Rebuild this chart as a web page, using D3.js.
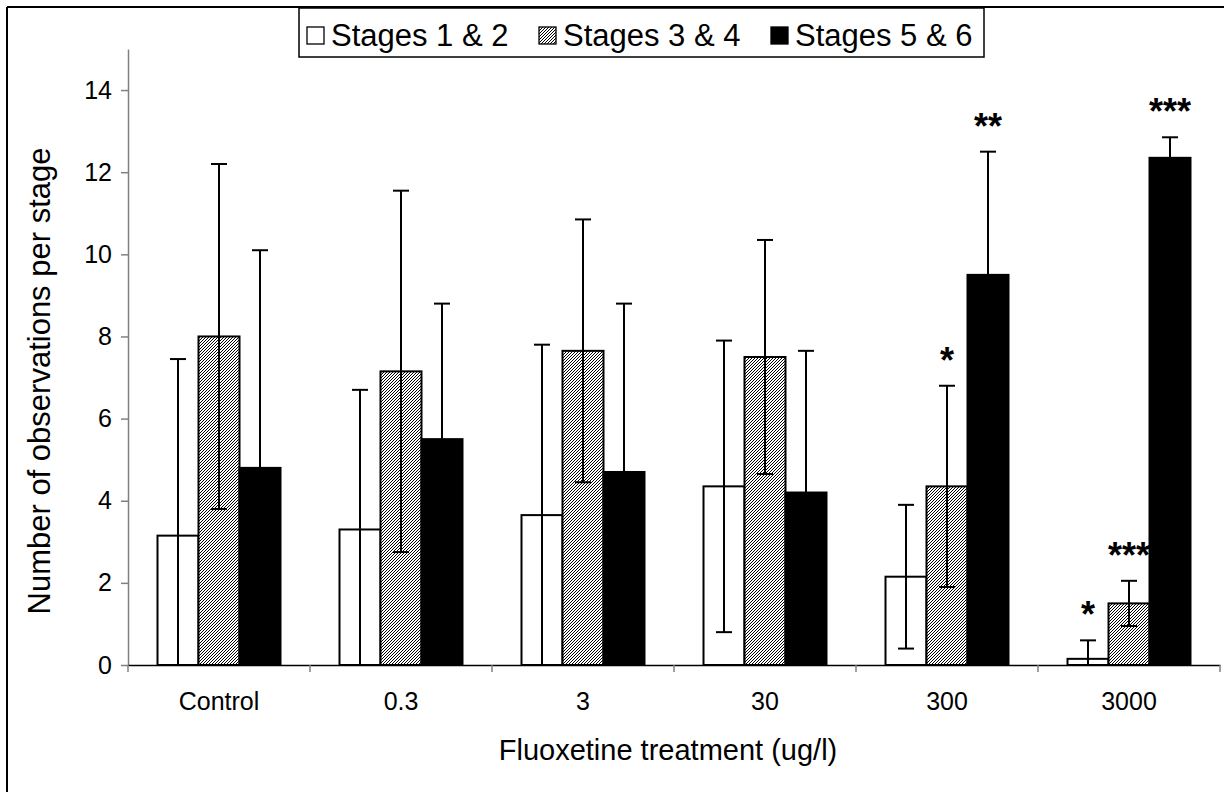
<!DOCTYPE html>
<html><head><meta charset="utf-8">
<script src="https://cdn.jsdelivr.net/npm/d3@7/dist/d3.min.js"></script>
<style>body{margin:0;background:#fff}svg{display:block;font-family:"Liberation Sans",Arial,sans-serif}</style>
</head><body>
<svg id="c" width="1224" height="792"></svg>
<script>
const categories = ["Control","0.3","3","30","300","3000"];
const seriesNames = ["Stages 1 & 2","Stages 3 & 4","Stages 5 & 6"];
const stage12 = [3.15,3.3,3.65,4.35,2.15,0.15];
const stage34 = [8.0,7.15,7.65,7.5,4.35,1.5];
const stage56 = [4.8,5.5,4.7,4.2,9.5,12.35];
const err12 = [4.3,3.4,4.15,3.55,1.75,0.45];
const err34 = [4.2,4.4,3.2,2.85,2.45,0.55];
const err56 = [5.3,3.3,4.1,3.45,3.0,0.5];
const stars = [[4,1,"*"],[4,2,"**"],[5,0,"*"],[5,1,"***"],[5,2,"***"]];
const yTicks = [0,2,4,6,8,10,12,14];

const FONT = "Liberation Sans, Arial, sans-serif";
const svg = d3.select("#c");
const defs = svg.append("defs");
const pat = defs.append("pattern").attr("id","hatch").attr("patternUnits","userSpaceOnUse")
  .attr("width",3).attr("height",3);
pat.append("rect").attr("width",3).attr("height",3).attr("fill","#fff");
[[0,2],[1,1],[2,0]].forEach(p=>pat.append("rect").attr("x",p[0]).attr("y",p[1])
  .attr("width",1).attr("height",1).attr("fill","#000").attr("shape-rendering","crispEdges"));

// outer frame (left and top visible)
svg.append("line").attr("x1",7).attr("y1",7).attr("x2",1224).attr("y2",7).attr("stroke","#000").attr("stroke-width",2);
svg.append("line").attr("x1",7).attr("y1",7).attr("x2",7).attr("y2",792).attr("stroke","#000").attr("stroke-width",2);

const x0 = d3.scaleBand().domain(categories).range([128,1220]);
const bw = 41;
const x1 = d3.scaleBand().domain(d3.range(3)).range([0,bw*3]);
const y = d3.scaleLinear().domain([0,15]).range([665,49]);

const fills = ["#fff","url(#hatch)","#000"];
const vals = [stage12,stage34,stage56];
const errs = [err12,err34,err56];
const data = [];
categories.forEach((c,i)=>{ for(let s=0;s<3;s++) data.push({c,i,s,v:vals[s][i],e:errs[s][i]}); });
const gx = d => x0(d.c) + (x0.bandwidth()-bw*3)/2 + x1(d.s);

// y axis
const yAxis = svg.append("g").attr("transform","translate(128,0)")
  .call(d3.axisLeft(y).tickValues(yTicks).tickSize(7).tickPadding(9).tickSizeOuter(0));
yAxis.select(".domain").attr("stroke","#808080").attr("stroke-width",1.5);
yAxis.selectAll(".tick line").attr("stroke","#808080").attr("stroke-width",1.5);
yAxis.selectAll(".tick text").attr("font-size",25).attr("fill","#000").attr("font-family",FONT);

// bars
svg.append("g").selectAll("rect").data(data).join("rect")
  .attr("x",gx).attr("width",bw)
  .attr("y",d=>y(d.v)).attr("height",d=>y(0)-y(d.v))
  .attr("fill",d=>fills[d.s]).attr("stroke","#000").attr("stroke-width",2);

// error bars
const eg = svg.append("g").attr("stroke","#000").attr("stroke-width",2);
data.forEach(d=>{
  const cx = gx(d)+bw/2;
  const hi = d.v+d.e, lo = Math.max(0,d.v-d.e);
  eg.append("line").attr("x1",cx).attr("x2",cx).attr("y1",y(hi)).attr("y2",y(lo));
  eg.append("line").attr("x1",cx-8).attr("x2",cx+8).attr("y1",y(hi)).attr("y2",y(hi));
  if (d.v-d.e > 0) eg.append("line").attr("x1",cx-8).attr("x2",cx+8).attr("y1",y(lo)).attr("y2",y(lo));
});

// x axis
const xAxis = svg.append("g").attr("transform","translate(0,665)")
  .call(d3.axisBottom(x0).tickSize(0).tickPadding(27).tickSizeOuter(0));
xAxis.select(".domain").attr("stroke","#000").attr("stroke-width",1.5);
xAxis.selectAll(".tick text").attr("font-size",25).attr("fill","#000").attr("font-family",FONT);
const bounds = categories.map(c=>x0(c)).concat([x0.range()[1]]);
svg.append("g").selectAll("line").data(bounds).join("line")
  .attr("x1",d=>d).attr("x2",d=>d).attr("y1",665).attr("y2",672)
  .attr("stroke","#808080").attr("stroke-width",1.5);

// significance stars
svg.append("g").selectAll("text").data(stars).join("text")
  .attr("x",d=>gx({c:categories[d[0]],s:d[1]})+bw/2)
  .attr("y",d=>{const v=vals[d[1]][d[0]]+errs[d[1]][d[0]]; return y(v)-13;})
  .attr("text-anchor","middle").attr("font-size",36).attr("font-weight","bold")
  .text(d=>d[2]);

// axis titles
svg.append("text").attr("transform","translate(50,381) rotate(-90)").attr("text-anchor","middle")
  .attr("font-size",31).text("Number of observations per stage");
svg.append("text").attr("x",668).attr("y",760).attr("text-anchor","middle")
  .attr("font-size",29).text("Fluoxetine treatment (ug/l)");

// legend
const lg = svg.append("g");
lg.append("rect").attr("x",299).attr("y",8).attr("width",685).attr("height",49)
  .attr("fill","#fff").attr("stroke","#000").attr("stroke-width",1.5);
const lx = [307,539,771];
seriesNames.forEach((n,i)=>{
  lg.append("rect").attr("x",lx[i]).attr("y",27).attr("width",17).attr("height",17)
    .attr("fill",fills[i]).attr("stroke","#000").attr("stroke-width",1.3);
  lg.append("text").attr("x",lx[i]+24).attr("y",46).attr("font-size",31).text(n);
});
</script>
</body></html>
